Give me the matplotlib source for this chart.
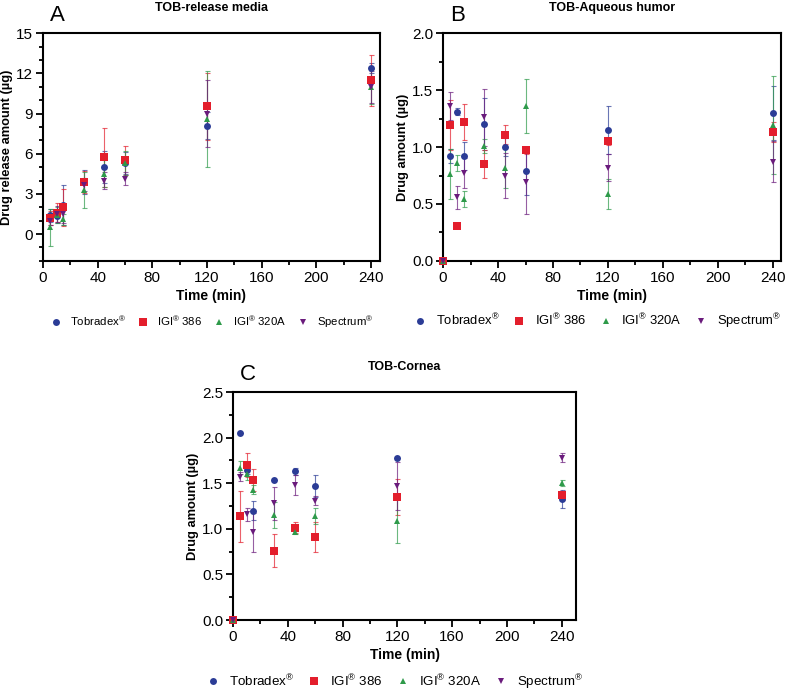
import matplotlib
matplotlib.use("Agg")
import matplotlib.pyplot as plt
from matplotlib.ticker import MultipleLocator, FormatStrFormatter

plt.rcParams['font.family'] = ['Liberation Sans', 'DejaVu Sans']
plt.rcParams['mathtext.default'] = 'regular'

names = ["Tobradex$^{®}$", "IGI$^{®}$ 386", "IGI$^{®}$ 320A", "Spectrum$^{®}$"]
colors = ["#2B3C96", "#E31E2C", "#2E9A4A", "#6A1B7C"]
markers = ["o", "s", "^", "v"]
msizes = [5, 5.5, 5, 5]

# A: release media (no 0 point)
time_a = [5, 10, 15, 30, 45, 60, 120, 240]
rel_mean = [
    [1.4, 1.35, 2.2, 3.9, 5.0, 5.3, 8.1, 12.4],
    [1.2, 1.6, 2.0, 3.9, 5.75, 5.5, 9.55, 11.5],
    [0.5, 1.45, 1.1, 3.3, 4.5, 5.3, 8.6, 11.0],
    [1.0, 1.5, 1.5, 3.7, 4.0, 4.15, 9.0, 11.0],
]
rel_sd = [
    [0.5, 0.5, 1.5, 0.9, 1.2, 0.8, 1.0, 0.4],
    [0.5, 0.7, 1.4, 0.8, 2.2, 1.05, 2.5, 1.9],
    [1.4, 0.6, 0.4, 1.35, 1.0, 0.9, 3.6, 1.3],
    [0.3, 0.6, 0.7, 0.5, 0.6, 0.5, 2.5, 1.2],
]

# B: aqueous humor
time_bc = [0, 5, 10, 15, 30, 45, 60, 120, 240]
aq_mean = [
    [0, 0.92, 1.31, 0.92, 1.20, 1.00, 0.79, 1.15, 1.30],
    [0, 1.19, 0.31, 1.22, 0.85, 1.11, 0.97, 1.05, 1.13],
    [0, 0.76, 0.86, 0.54, 1.01, 0.82, 1.36, 0.59, 1.19],
    [0, 1.36, 0.56, 0.77, 1.26, 0.75, 0.69, 0.82, 0.87],
]
aq_sd = [
    [0, 0.06, 0.03, 0.12, 0.23, 0.08, 0.21, 0.21, 0.24],
    [0, 0.22, 0.0, 0.16, 0.12, 0.08, 0.03, 0.03, 0.09],
    [0, 0.22, 0.07, 0.07, 0.06, 0.18, 0.24, 0.13, 0.43],
    [0, 0.12, 0.10, 0.13, 0.25, 0.20, 0.28, 0.12, 0.18],
]

# C: cornea
co_mean = [
    [0, 2.05, 1.65, 1.20, 1.54, 1.63, 1.47, 1.78, 1.33],
    [0, 1.14, 1.70, 1.54, 0.76, 1.01, 0.91, 1.35, 1.37],
    [0, 1.67, 1.60, 1.43, 1.15, 0.96, 1.14, 1.09, 1.50],
    [0, 1.57, 1.16, 0.96, 1.28, 1.48, 1.31, 1.47, 1.78],
]
co_sd = [
    [0, 0.0, 0.05, 0.10, 0.0, 0.04, 0.12, 0.0, 0.10],
    [0, 0.28, 0.13, 0.12, 0.18, 0.06, 0.16, 0.20, 0.05],
    [0, 0.07, 0.07, 0.05, 0.14, 0.02, 0.09, 0.25, 0.03],
    [0, 0.05, 0.07, 0.21, 0.18, 0.11, 0.05, 0.26, 0.05],
]

fig = plt.figure(figsize=(7.87, 6.92), dpi=100)
axA = fig.add_axes([0.0546, 0.623, 0.428, 0.329])
axB = fig.add_axes([0.563, 0.623, 0.4295, 0.329])
axC = fig.add_axes([0.296, 0.104, 0.436, 0.3295])


def draw(ax, t, means, sds, ylim, ymaj, ymin, ylabel, title, letter, fmt, xmax,
         legpos, legfs):
    for i in range(4):
        ax.errorbar(t, means[i], yerr=sds[i], fmt="none", ecolor=colors[i],
                    elinewidth=0.8, capsize=1.8, capthick=0.8, alpha=0.7,
                    clip_on=False, zorder=2)
    for i in range(4):
        ax.plot(t, means[i], linestyle="none", marker=markers[i], color=colors[i],
                markersize=msizes[i], markeredgewidth=0, label=names[i],
                clip_on=False, zorder=3)
    ax.set_xlim(0, xmax)
    ax.set_ylim(*ylim)
    ax.xaxis.set_major_locator(MultipleLocator(40))
    ax.xaxis.set_minor_locator(MultipleLocator(20))
    ax.yaxis.set_major_locator(MultipleLocator(ymaj))
    ax.yaxis.set_minor_locator(MultipleLocator(ymin))
    ax.yaxis.set_major_formatter(FormatStrFormatter(fmt))
    for s in ["top", "right", "bottom", "left"]:
        ax.spines[s].set_linewidth(1.5)
    ax.tick_params(which="major", length=5, width=1.3, labelsize=11, pad=2)
    ax.tick_params(which="minor", length=3, width=1.3)
    ax.set_xlabel("Time (min)", fontsize=10, fontweight="bold", labelpad=3)
    ax.set_ylabel(ylabel, fontsize=9.3, fontweight="bold", labelpad=2)
    ax.set_title(title, fontsize=9, fontweight="bold", pad=16)
    ax.text(0.02, 1.03, letter, transform=ax.transAxes, fontsize=16, va="bottom")
    ax.legend(loc="center", bbox_to_anchor=legpos, ncol=4, frameon=False,
              fontsize=legfs, handletextpad=0.6, columnspacing=0.9,
              handlelength=1.2, borderaxespad=0, borderpad=0)


draw(axA, time_a, rel_mean, rel_sd, (-2, 15), 3, 1, "Drug release amount (µg)",
     "TOB-release media", "A", "%d", 246.5, (0.5, -0.268), 8.2)
draw(axB, time_bc, aq_mean, aq_sd, (0, 2.0), 0.5, 0.25, "Drug amount (µg)",
     "TOB-Aqueous humor", "B", "%.1f", 246, (0.455, -0.268), 9.4)
draw(axC, time_bc, co_mean, co_sd, (0, 2.5), 0.5, 0.25, "Drug amount (µg)",
     "TOB-Cornea", "C", "%.1f", 250.5, (0.47, -0.272), 9.6)

fig.savefig("out.png", dpi=100)
